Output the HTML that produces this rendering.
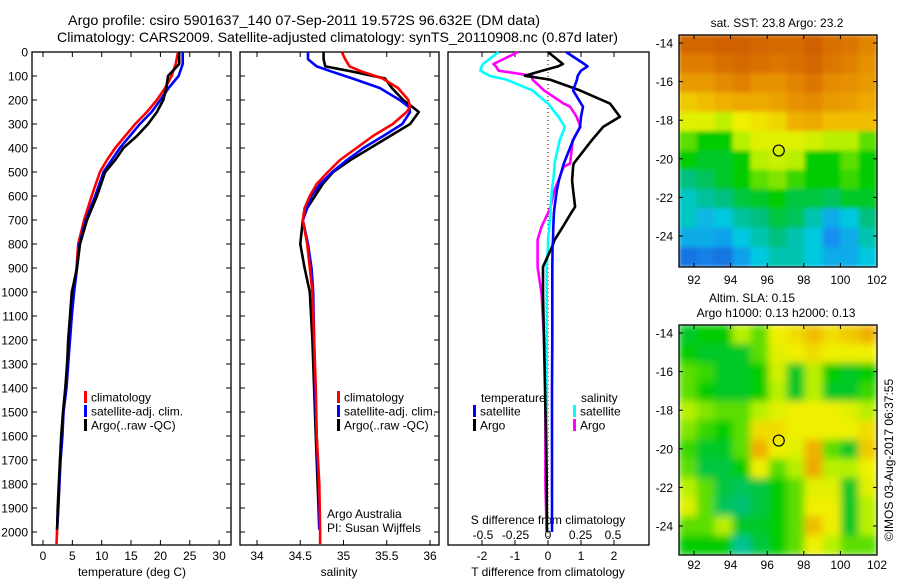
<!DOCTYPE html>
<html><head><meta charset="utf-8"><style>
html,body{margin:0;padding:0;background:#fff;}
svg{display:block;font-family:"Liberation Sans",sans-serif;}
</style></head><body>
<svg id="chart" width="900" height="580" viewBox="0 0 900 580" xmlns="http://www.w3.org/2000/svg">
<defs>
<filter id="blur1" x="0" y="0" width="1" height="1"><feGaussianBlur stdDeviation="2" edgeMode="duplicate"/></filter>
<filter id="blur2" x="0" y="0" width="1" height="1"><feGaussianBlur stdDeviation="4" edgeMode="duplicate"/></filter>
<clipPath id="clipM1"><rect x="679" y="35" width="198" height="232"/></clipPath>
<clipPath id="clipM2"><rect x="679" y="325" width="198" height="230"/></clipPath>
</defs>
<text x="68" y="25" font-size="14" textLength="472" lengthAdjust="spacingAndGlyphs">Argo profile: csiro 5901637_140 07-Sep-2011 19.572S 96.632E (DM data)</text>
<text x="57" y="42" font-size="14" textLength="561" lengthAdjust="spacingAndGlyphs">Climatology: CARS2009. Satellite-adjusted climatology: synTS_20110908.nc (0.87d later)</text>
<g id="g"></g>
</svg>
<script>
// ---------- data ----------
const depthT = [0,50,100,150,200,250,300,350,400,450,500,600,700,800,900,1000,1100,1200,1300,1400,1500,1600,1700,1800,1900,1990,2050];
const tempClim = [23.0,22.6,21.9,20.8,19.4,17.7,15.7,14.0,12.3,10.9,9.7,8.3,7.0,6.0,5.7,5.2,4.8,4.5,4.2,3.9,3.5,3.2,2.9,2.8,2.6,2.4,2.3];
const tempSat  = [23.8,23.8,23.1,21.4,20.0,18.5,16.5,14.8,13.1,11.7,10.3,8.9,7.3,6.2,5.8,5.3,4.9,4.6,4.3,4.0,3.5,3.3,3.0,2.8,2.6,2.4,2.4];
const tempArgo = [23.2,23.2,21.3,21.0,20.5,19.4,17.9,16.0,13.7,12.3,10.6,9.2,7.5,6.3,5.8,4.9,4.6,4.3,4.1,3.8,3.4,3.1,2.9,2.7,2.5,2.4,2.4];
const depthS = [0,30,60,80,110,150,200,230,250,300,350,400,450,500,550,600,650,700,800,900,1000,1200,1400,1600,1800,1990,2050];
const salClim = [34.98,35.02,35.07,35.2,35.45,35.63,35.75,35.77,35.73,35.57,35.34,35.15,34.96,34.82,34.69,34.61,34.55,34.53,34.58,34.61,34.64,34.66,34.68,34.69,34.72,34.73,34.73];
const salSat  = [34.59,34.59,34.69,34.85,35.1,35.42,35.65,35.76,35.77,35.68,35.46,35.23,35.04,34.87,34.73,34.63,34.58,34.53,34.59,34.63,34.65,34.66,34.67,34.69,34.71,34.72,34.72];
const salArgo = [34.77,34.77,34.79,35.08,35.48,35.56,35.69,35.80,35.87,35.77,35.54,35.31,35.08,34.88,34.76,34.67,34.58,34.53,34.50,34.55,34.61,34.64,34.66,34.68,34.70,34.72,34.72];
const depthD = [0,50,60,78,99,115,160,215,228,270,312,367,465,478,535,575,645,671,728,783,812,895,1006,1200,1400,1600,1800,2000];
const dTSat  = [0.55,1.1,1.2,1.0,0.9,0.88,0.76,1.0,1.06,1.0,0.97,0.76,0.48,0.45,0.33,0.27,0.2,0.18,0.16,0.15,0.14,0.13,0.13,0.13,0.12,0.12,0.12,0.12];
const dTArgo = [0.0,0.45,0.3,-0.18,-0.7,0.06,0.97,1.88,1.95,2.18,1.67,1.33,0.78,0.76,0.73,0.76,0.82,0.7,0.45,0.2,0.12,-0.15,-0.15,-0.12,-0.09,-0.06,-0.04,-0.03];
const dSSat  = [-0.38,-0.5,-0.51,-0.52,-0.45,-0.32,-0.12,0.0,0.02,0.08,0.13,0.09,0.05,0.05,0.04,0.03,0.02,0.02,0.01,0.0,0.0,-0.01,-0.01,-0.01,-0.01,-0.01,-0.01,-0.01];
const dSArgo = [-0.23,-0.42,-0.40,-0.38,-0.12,-0.12,-0.03,0.12,0.17,0.22,0.25,0.19,0.17,0.12,0.08,0.05,0.02,0.0,-0.05,-0.08,-0.08,-0.08,-0.05,-0.03,-0.02,-0.02,-0.02,-0.01];
const depthTicks = [0,100,200,300,400,500,600,700,800,900,1000,1100,1200,1300,1400,1500,1600,1700,1800,1900,2000];
const tempTicks = [0,5,10,15,20,25,30];
const salTicks = [34,34.5,35,35.5,36];
const dTTicks = [-2,-1,0,1,2];
const dSTicks = [-0.5,-0.25,0,0.25,0.5];
const dSTickLabels = ["-0.5","-0.25","0","0.25","0.5"];
const mapLons = [92,94,96,98,100,102];
const mapLats = [-14,-16,-18,-20,-22,-24];
const argoLon = 96.632, argoLat = -19.572;
const sstGrid = [
[0.93,0.93,0.95,0.95,0.93,0.92,0.92,0.95,0.9,0.88,0.84],
[0.86,0.86,0.9,0.92,0.9,0.88,0.9,0.93,0.88,0.85,0.8],
[0.78,0.78,0.82,0.85,0.8,0.8,0.84,0.88,0.82,0.8,0.78],
[0.68,0.7,0.72,0.74,0.74,0.76,0.8,0.82,0.78,0.77,0.74],
[0.6,0.6,0.56,0.62,0.64,0.66,0.72,0.74,0.7,0.7,0.7],
[0.5,0.45,0.45,0.55,0.6,0.6,0.6,0.58,0.55,0.55,0.5],
[0.45,0.42,0.42,0.45,0.55,0.57,0.55,0.45,0.45,0.5,0.45],
[0.35,0.38,0.42,0.45,0.5,0.52,0.48,0.45,0.45,0.48,0.45],
[0.28,0.32,0.35,0.4,0.42,0.45,0.4,0.4,0.38,0.42,0.42],
[0.28,0.22,0.25,0.32,0.35,0.4,0.38,0.3,0.2,0.25,0.35],
[0.2,0.2,0.18,0.25,0.3,0.35,0.3,0.25,0.15,0.2,0.3],
[0.1,0.12,0.1,0.18,0.25,0.3,0.3,0.25,0.2,0.2,0.25]];
const slaGrid = [
[0.42,0.45,0.45,0.55,0.5,0.62,0.65,0.7,0.65,0.68,0.72],
[0.45,0.42,0.42,0.42,0.5,0.6,0.62,0.65,0.62,0.62,0.62],
[0.5,0.48,0.42,0.42,0.45,0.58,0.42,0.55,0.45,0.42,0.45],
[0.5,0.45,0.42,0.42,0.45,0.55,0.42,0.55,0.42,0.42,0.48],
[0.55,0.52,0.5,0.5,0.55,0.6,0.62,0.62,0.62,0.6,0.55],
[0.52,0.48,0.45,0.5,0.65,0.65,0.62,0.62,0.62,0.62,0.65],
[0.48,0.42,0.42,0.5,0.72,0.62,0.6,0.72,0.5,0.42,0.68],
[0.5,0.4,0.4,0.45,0.62,0.5,0.55,0.74,0.55,0.55,0.62],
[0.55,0.5,0.4,0.38,0.4,0.45,0.5,0.6,0.6,0.42,0.6],
[0.6,0.5,0.38,0.36,0.4,0.45,0.5,0.62,0.62,0.42,0.55],
[0.5,0.5,0.55,0.42,0.42,0.45,0.5,0.7,0.62,0.42,0.55],
[0.45,0.45,0.45,0.33,0.4,0.45,0.5,0.62,0.55,0.5,0.5]];

// ---------- helpers ----------
const NS="http://www.w3.org/2000/svg";
const root=document.getElementById('g');
function mk(tag,attrs,parent){const e=document.createElementNS(NS,tag);for(const k in attrs)e.setAttribute(k,attrs[k]);(parent||root).appendChild(e);return e;}
function txt(s,x,y,anchor,size,parent){const e=mk('text',{x:x,y:y,'text-anchor':anchor||'start','font-size':size||12},parent);e.textContent=s;return e;}

const yTop=52, yPx=0.24;
const yD = d => yTop + d*yPx;
const panels=[
 {name:'temperature',l:32,r:231,x:v=>43+5.87*v},
 {name:'salinity',l:240,r:439,x:v=>257+86.5*(v-34)},
 {name:'difference',l:448,r:649,x:v=>548+33*v, xs:v=>548+130*v}
];
const pBottom=545;

function frame(p){
  const g=mk('g',{});
  
  
  const r=mk('rect',{x:p.l,y:yTop,width:p.r-p.l,height:pBottom-yTop,fill:'none',stroke:'#000','stroke-width':1.3},g);
  
  
  return g;
}
function line(xs,ds,xf,color,name,g,w){
  let d='';
  for(let i=0;i<ds.length;i++){d+=(i?'L':'M')+xf(xs[i]).toFixed(1)+' '+yD(ds[i]).toFixed(1);}
  const p=mk('path',{d:d,fill:'none',stroke:color,'stroke-width':w||2.6,'stroke-linejoin':'round'},g);
  
  
}
function legendEntry(x,y,color,label,g,name){
  const e=mk('g',{},g);
  
  
  mk('rect',{x:x,y:y-6,width:3,height:12,fill:color},e);
  txt(label,x+7,y+4.5,'start',12,e);
}

// ---------- panel 1 ----------
let g1=frame(panels[0]);
depthTicks.forEach(d=>{
  const y=yD(d);
  mk('line',{x1:32,x2:37,y1:y,y2:y,stroke:'#000'},g1);
  mk('line',{x1:226,x2:231,y1:y,y2:y,stroke:'#000'},g1);
  const t=txt(String(d),28,y+4.5,'end',12,g1);
  
  
});
tempTicks.forEach(v=>{
  const x=panels[0].x(v);
  mk('line',{x1:x,x2:x,y1:pBottom,y2:pBottom-5,stroke:'#000'},g1);
  mk('line',{x1:x,x2:x,y1:yTop,y2:yTop+5,stroke:'#000'},g1);
  txt(String(v),x,560,'middle',12,g1);
});
let at=txt('temperature (deg C)',132,576,'middle',12,g1);


line(tempClim,depthT,panels[0].x,'#ff0000','temp-climatology-line',g1);
line(tempSat.slice(0,26),depthT.slice(0,26),panels[0].x,'#0000ff','temp-satellite-line',g1);
line(tempArgo.slice(0,26),depthT.slice(0,26),panels[0].x,'#000000','temp-argo-line',g1);
legendEntry(84,397,'#ff0000','climatology',g1,'legend-climatology');
legendEntry(84,411,'#0000ff','satellite-adj. clim.',g1,'legend-satellite');
legendEntry(84,425,'#000000','Argo(..raw -QC)',g1,'legend-argo');

// ---------- panel 2 ----------
let g2=frame(panels[1]);
depthTicks.forEach(d=>{
  const y=yD(d);
  mk('line',{x1:240,x2:245,y1:y,y2:y,stroke:'#000'},g2);
  mk('line',{x1:434,x2:439,y1:y,y2:y,stroke:'#000'},g2);
});
salTicks.forEach(v=>{
  const x=panels[1].x(v);
  mk('line',{x1:x,x2:x,y1:pBottom,y2:pBottom-5,stroke:'#000'},g2);
  mk('line',{x1:x,x2:x,y1:yTop,y2:yTop+5,stroke:'#000'},g2);
  txt(String(v),x,560,'middle',12,g2);
});
at=txt('salinity',339,576,'middle',12,g2);


line(salArgo.slice(0,26),depthS.slice(0,26),panels[1].x,'#000000','sal-argo-line',g2);
line(salSat.slice(0,26),depthS.slice(0,26),panels[1].x,'#0000ff','sal-satellite-line',g2);
line(salClim,depthS,panels[1].x,'#ff0000','sal-climatology-line',g2);
legendEntry(337,397,'#ff0000','climatology',g2,'legend-climatology-sal');
legendEntry(337,411,'#0000ff','satellite-adj. clim.',g2,'legend-satellite-sal');
legendEntry(337,425,'#000000','Argo(..raw -QC)',g2,'legend-argo-sal');
at=txt('Argo Australia',327,518,'start',12,g2);


at=txt('PI: Susan Wijffels',327,532,'start',12,g2);



// ---------- panel 3 ----------
let g3=frame(panels[2]);
mk('line',{x1:548,x2:548,y1:yTop,y2:pBottom,stroke:'#000','stroke-dasharray':'1 3'},g3);
dTTicks.forEach(v=>{
  const x=panels[2].x(v);
  mk('line',{x1:x,x2:x,y1:pBottom,y2:pBottom-5,stroke:'#000'},g3);
  mk('line',{x1:x,x2:x,y1:yTop,y2:yTop+5,stroke:'#000'},g3);
  txt(String(v),x,560,'middle',12,g3);
});
dSTicks.forEach((v,i)=>{
  txt(dSTickLabels[i],panels[2].xs(v),539,'middle',12,g3);
});
at=txt('S difference from climatology',548,524,'middle',12,g3);


at=txt('T difference from climatology',548,576,'middle',12,g3);


line(dSArgo,depthD,panels[2].xs,'#ff00ff','s-diff-argo-line',g3);
line(dSSat,depthD,panels[2].xs,'#00ffff','s-diff-satellite-line',g3);
line(dTArgo,depthD,panels[2].x,'#000000','t-diff-argo-line',g3);
line(dTSat,depthD,panels[2].x,'#0000ff','t-diff-satellite-line',g3);
txt('temperature',481,402,'start',12,g3);
legendEntry(473,411,'#0000ff','satellite',g3,'legend-t-satellite');
legendEntry(473,425,'#000000','Argo',g3,'legend-t-argo');
txt('salinity',581,402,'start',12,g3);
legendEntry(573,411,'#00ffff','satellite',g3,'legend-s-satellite');
legendEntry(573,425,'#ff00ff','Argo',g3,'legend-s-argo');

// ---------- maps ----------
const cstops=[[0,[16,64,192]],[0.15,[24,144,240]],[0.25,[0,200,224]],[0.35,[0,192,128]],[0.45,[0,204,0]],[0.55,[184,240,0]],[0.62,[240,240,0]],[0.72,[240,176,0]],[0.85,[224,128,0]],[1,[200,80,0]]];
function cmap(v){
  v=Math.max(0,Math.min(1,v));
  for(let i=1;i<cstops.length;i++){
    if(v<=cstops[i][0]){const a=cstops[i-1],b=cstops[i];const t=(v-a[0])/(b[0]-a[0]);
      const c=a[1].map((q,k)=>Math.round(q+(b[1][k]-q)*t));return 'rgb('+c.join(',')+')';}
  }
  return 'rgb(200,80,0)';
}
function drawMap(grid,top,bottom,latTop,latPx,name,clip,filt,labelY){
  const L=679,R=877;
  const lonX=lon=>694+(lon-92)*18.3;
  const latY=lat=>latTop+(-14-lat)*latPx;
  const g=mk('g',{});
  
  
  const cg=mk('g',{'clip-path':'url(#'+clip+')'},g);
  const hg=mk('g',{filter:'url(#'+filt+')'},cg);
  const nr=grid.length,nc=grid[0].length;
  const cw=(R-L)/nc,ch=(bottom-top)/nr;
  for(let r=0;r<nr;r++)for(let c=0;c<nc;c++){
    const cell=mk('rect',{x:L+c*cw-0.5,y:top+r*ch-0.5,width:cw+1,height:ch+1,fill:cmap(grid[r][c])},hg);
    
    
  }
  mk('rect',{x:L,y:top,width:R-L,height:bottom-top,fill:'none',stroke:'#000','stroke-width':1.3},g);
  mapLons.forEach(lon=>{const x=lonX(lon);
    mk('line',{x1:x,x2:x,y1:bottom,y2:bottom-4,stroke:'#000'},g);
    mk('line',{x1:x,x2:x,y1:top,y2:top+4,stroke:'#000'},g);
    txt(String(lon),x,labelY,'middle',12,g);});
  mapLats.forEach(lat=>{const y=latY(lat);
    mk('line',{x1:L,x2:L+4,y1:y,y2:y,stroke:'#000'},g);
    mk('line',{x1:R-4,x2:R,y1:y,y2:y,stroke:'#000'},g);
    txt(String(lat),673,y+4.5,'end',12,g);});
  const m=mk('circle',{cx:lonX(argoLon),cy:latY(argoLat),r:5.5,fill:'none',stroke:'#000','stroke-width':1.2},g);
  
  
}
drawMap(sstGrid,35,267,43,19.3,'sst-map','clipM1','blur1',284);
drawMap(slaGrid,325,555,333,19.3,'sla-map','clipM2','blur2',569);
at=txt('sat. SST: 23.8 Argo: 23.2',777,27,'middle',12);


at=txt('Altim. SLA: 0.15',752,302,'middle',12);


at=txt('Argo h1000: 0.13 h2000: 0.13',776,317,'middle',12);


at=txt('©IMOS 03-Aug-2017 06:37:55',0,0,'middle',12);
at.setAttribute('transform','translate(893,460) rotate(-90)');


</script>
</body></html>
